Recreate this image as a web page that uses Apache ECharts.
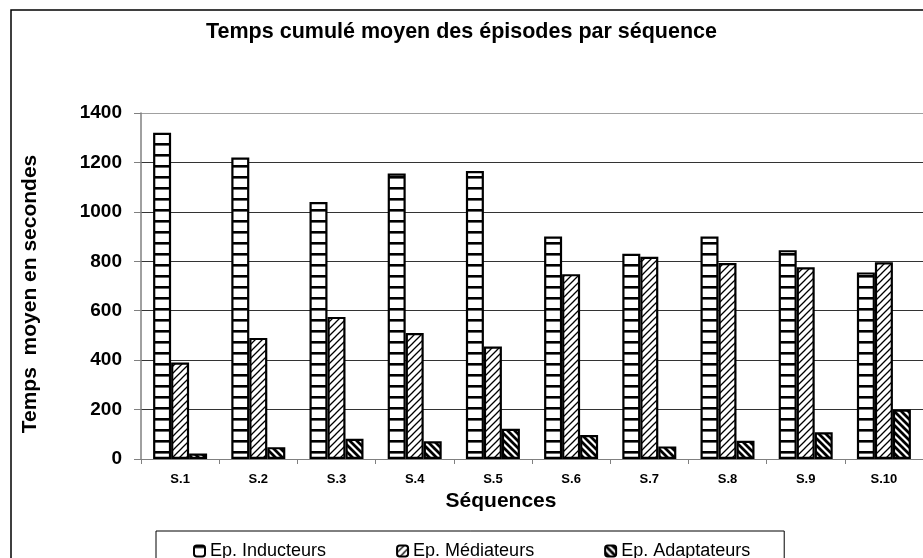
<!DOCTYPE html>
<html>
<head>
<meta charset="utf-8">
<script src="https://cdn.jsdelivr.net/npm/echarts@6/dist/echarts.min.js"></script>
<style>
  html, body { margin: 0; padding: 0; background: #fff; }
  #chart { width: 923px; height: 558px; }
</style>
</head>
<body>
<div id="chart"></div>
<script>
    // valeurs
    var categories = ['S.1', 'S.2', 'S.3', 'S.4', 'S.5', 'S.6', 'S.7', 'S.8', 'S.9', 'S.10']
    var inducteurs = [1320, 1220, 1040, 1155, 1165, 900, 830, 900, 845, 755]
    var mediateurs = [390, 490, 575, 510, 455, 748, 818, 793, 776, 796]
    var adaptateurs = [22, 48, 82, 72, 122, 97, 51, 74, 108, 200]
    var seriesNames = ['Ep. Inducteurs', 'Ep. Médiateurs', 'Ep. Adaptateurs']
    var yTicks = {min: 0, max: 1400, step: 200}

    var font = '"Liberation Sans", Arial, sans-serif'

    // motifs noir et blanc (hachures)
    function makePattern (kind) {
        var c = document.createElement('canvas')
        var ctx = c.getContext('2d')
        if (kind === 'horiz') {
            c.width = 8; c.height = 11
            ctx.fillStyle = '#fff'; ctx.fillRect(0, 0, 8, 11)
            ctx.fillStyle = '#000'; ctx.fillRect(0, 0, 8, 2.6)
        } else {
            var s = 7
            c.width = s; c.height = s
            ctx.fillStyle = '#fff'; ctx.fillRect(0, 0, s, s)
            ctx.strokeStyle = '#000'
            ctx.lineWidth = kind === 'slash' ? 1.3 : 2.8
            ctx.beginPath()
            if (kind === 'slash') {
                ctx.moveTo(-1, s + 1); ctx.lineTo(s + 1, -1)
                ctx.moveTo(-1 - s, s + 1); ctx.lineTo(1, -1)
                ctx.moveTo(s - 1, s + 1); ctx.lineTo(s + s + 1, -1)
            } else {
                ctx.moveTo(-1, -1); ctx.lineTo(s + 1, s + 1)
                ctx.moveTo(-1 - s, -1); ctx.lineTo(1, s + 1)
                ctx.moveTo(s - 1, -1); ctx.lineTo(s + s + 1, s + 1)
            }
            ctx.stroke()
        }
        return {image: c, repeat: 'repeat'}
    }

    function barSeries (name, data, pattern) {
        return {
            name: name,
            type: 'bar',
            data: data,
            barWidth: 18,
            barGap: '0%',
            itemStyle: {
                color: makePattern(pattern),
                borderColor: '#000',
                borderWidth: 2.2
            },
            emphasis: {disabled: true}
        }
    }

    var chart = echarts.init(document.getElementById('chart'))
    chart.setOption({
        animation: false,
        backgroundColor: '#fff',
        title: {
            text: 'Temps cumulé moyen des épisodes par séquence',
            left: 'center',
            top: 16,
            textStyle: {fontFamily: font, fontSize: 21.5, fontWeight: 'bold', color: '#000'}
        },
        graphic: [{
            type: 'rect',
            shape: {x: 11, y: 10, width: 1000, height: 700},
            style: {fill: 'none', stroke: '#000', lineWidth: 1.5},
            silent: true
        }],
        legend: {
            data: seriesNames,
            left: 156,
            top: 531,
            padding: [11, 34, 30, 37],
            itemGap: 70,
            itemWidth: 11,
            itemHeight: 11,
            borderColor: '#000',
            borderWidth: 1,
            textStyle: {fontFamily: font, fontSize: 18, color: '#000'}
        },
        grid: {
            left: 141,
            top: 113,
            width: 787,
            height: 346,
            containLabel: false
        },
        xAxis: {
            type: 'category',
            data: categories,
            name: 'Séquences',
            nameLocation: 'middle',
            nameGap: 32,
            nameTextStyle: {fontFamily: font, fontSize: 21, fontWeight: 'bold', color: '#000', padding: [0, 62, 0, 0]},
            axisLine: {show: true, lineStyle: {color: '#808080', width: 1}},
            axisTick: {show: true, length: 5, lineStyle: {color: '#808080'}},
            axisLabel: {margin: 14, fontFamily: font, fontSize: 13, fontWeight: 'bold', color: '#000'},
            splitLine: {show: false}
        },
        yAxis: {
            type: 'value',
            min: yTicks.min,
            max: yTicks.max,
            interval: yTicks.step,
            name: 'Temps  moyen en secondes',
            nameLocation: 'middle',
            nameGap: 100,
            nameTextStyle: {fontFamily: font, fontSize: 21, fontWeight: 'bold', color: '#000', padding: [0, 16, 0, 0]},
            axisLine: {show: true, lineStyle: {color: '#808080', width: 1.5}},
            axisTick: {show: true, length: 7, lineStyle: {color: '#808080'}},
            axisLabel: {
                margin: 19, fontFamily: font, fontSize: 19, fontWeight: 'bold', color: '#000',
                formatter: function (v) { return String(v) }
            },
            splitLine: {
                show: true,
                lineStyle: {color: ['#333', '#333', '#333', '#333', '#333', '#333', '#333', '#a0a0a0'], width: 1}
            }
        },
        series: [
            barSeries(seriesNames[0], inducteurs, 'horiz'),
            barSeries(seriesNames[1], mediateurs, 'slash'),
            barSeries(seriesNames[2], adaptateurs, 'back')
        ]
    })
</script>
</body>
</html>
